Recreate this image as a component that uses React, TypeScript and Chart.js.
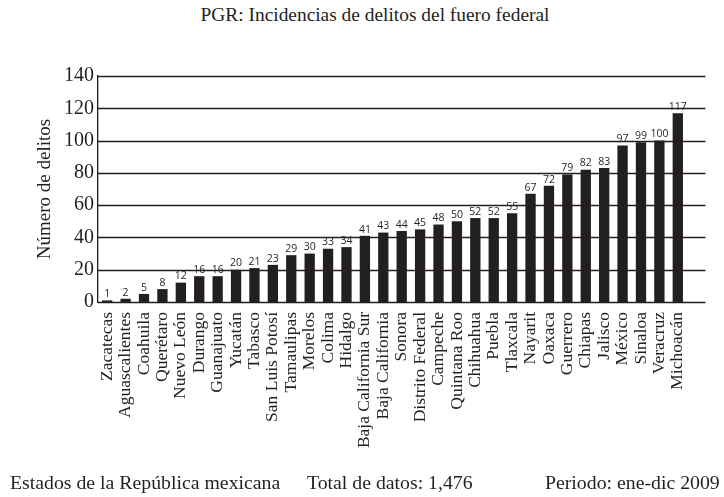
import React, { useEffect, useRef } from 'react';
import Chart from 'chart.js/auto';

// Estados ordered as in the source chart (ascending by incidents)
const estados = [
  'Zacatecas', 'Aguascalientes', 'Coahuila', 'Querétaro', 'Nuevo León', 'Durango',
  'Guanajuato', 'Yucatán', 'Tabasco', 'San Luis Potosí', 'Tamaulipas', 'Morelos',
  'Colima', 'Hidalgo', 'Baja California Sur', 'Baja California', 'Sonora',
  'Distrito Federal', 'Campeche', 'Quintana Roo', 'Chihuahua', 'Puebla', 'Tlaxcala',
  'Nayarit', 'Oaxaca', 'Guerrero', 'Chiapas', 'Jalisco', 'México', 'Sinaloa',
  'Veracruz', 'Michoacán',
];
const delitos = [
  1, 2, 5, 8, 12, 16, 16, 20, 21, 23, 29, 30, 33, 34, 41, 43, 44, 45, 48, 50,
  52, 52, 55, 67, 72, 79, 82, 83, 97, 99, 100, 117,
];
const yTicks = [0, 20, 40, 60, 80, 100, 120, 140];

const SERIF = '"Liberation Serif", "DejaVu Serif", serif';
const INK = '#231f20';

// value printed above each bar
const valueLabels = {
  id: 'valueLabels',
  afterDatasetsDraw(chart: any) {
    const { ctx } = chart;
    const meta = chart.getDatasetMeta(0);
    ctx.save();
    ctx.font = '10.5px "Open Sans", sans-serif';
    ctx.fillStyle = INK;
    ctx.textAlign = 'center';
    ctx.textBaseline = 'bottom';
    meta.data.forEach((bar: any, i: number) => {
      ctx.fillText(String(delitos[i]), bar.x, bar.y - 1);
    });
    ctx.restore();
  },
};

// horizontal rules run one category past the last bar
const extendedGrid = {
  id: 'extendedGrid',
  beforeDatasetsDraw(chart: any) {
    const { ctx, chartArea, scales } = chart;
    const step = scales.x.getPixelForValue(1) - scales.x.getPixelForValue(0);
    const right = chartArea.right + step;
    ctx.save();
    ctx.strokeStyle = INK;
    ctx.lineWidth = 1.3;
    scales.y.ticks.forEach((t: any) => {
      const py = Math.round(scales.y.getPixelForValue(t.value)) + 0.5;
      ctx.beginPath();
      ctx.moveTo(chartArea.left, py);
      ctx.lineTo(right, py);
      ctx.stroke();
    });
    ctx.restore();
  },
};

export default function App() {
  const canvasRef = useRef<HTMLCanvasElement>(null);
  const chartRef = useRef<Chart | null>(null);

  useEffect(() => {
    if (!canvasRef.current) return;
    if (chartRef.current) chartRef.current.destroy();

    chartRef.current = new Chart(canvasRef.current, {
      type: 'bar',
      data: {
        labels: estados,
        datasets: [{
          label: 'Número de delitos',
          data: delitos,
          backgroundColor: INK,
          borderWidth: 0,
          categoryPercentage: 1,
          barPercentage: 0.56,
        }],
      },
      plugins: [extendedGrid, valueLabels],
      options: {
        responsive: false,
        animation: false,
        devicePixelRatio: 1,
        layout: { padding: { top: 76, right: 37, left: 0, bottom: 0 } },
        plugins: {
          legend: { display: false },
          tooltip: { enabled: false },
        },
        scales: {
          x: {
            grid: { display: false, drawTicks: false },
            border: { display: false },
            afterFit: (s: any) => { s.height = 195; },
            ticks: {
              autoSkip: false,
              minRotation: 90,
              maxRotation: 90,
              padding: 10,
              color: INK,
              font: { family: SERIF, size: 17.5 },
            },
          },
          y: {
            min: 0,
            max: 140,
            afterFit: (s: any) => { s.width = 98; },
            afterBuildTicks: (s: any) => { s.ticks = yTicks.map(v => ({ value: v })); },
            grid: { display: false, drawTicks: false },
            border: { display: true, color: INK, width: 1.3 },
            ticks: {
              padding: 4,
              color: INK,
              font: { family: SERIF, size: 20 },
            },
            title: {
              display: true,
              text: 'Número de delitos',
              color: INK,
              padding: { top: 34, bottom: 0 },
              font: { family: SERIF, size: 19 },
            },
          },
        },
      },
    });

    return () => {
      if (chartRef.current) {
        chartRef.current.destroy();
        chartRef.current = null;
      }
    };
  }, []);

  const footer: React.CSSProperties = { position: 'absolute', top: 473, fontSize: 19.8, lineHeight: 1, whiteSpace: 'nowrap' };

  return (
    <div style={{ position: 'absolute', left: 0, top: 0, width: 724, height: 497, background: '#fff', fontFamily: SERIF, color: INK }}>
      <div style={{ position: 'absolute', left: 0, top: 5, width: 750, textAlign: 'center', fontSize: 19.4, lineHeight: 1, whiteSpace: 'nowrap' }}>
        PGR: Incidencias de delitos del fuero federal
      </div>
      <canvas ref={canvasRef} width={724} height={497} style={{ position: 'absolute', left: 0, top: 0, width: 724, height: 497 }} />
      <div style={{ ...footer, left: 10 }}>Estados de la República mexicana</div>
      <div style={{ ...footer, left: 307 }}>Total de datos: 1,476</div>
      <div style={{ ...footer, left: 545 }}>Periodo: ene-dic 2009</div>
    </div>
  );
}
